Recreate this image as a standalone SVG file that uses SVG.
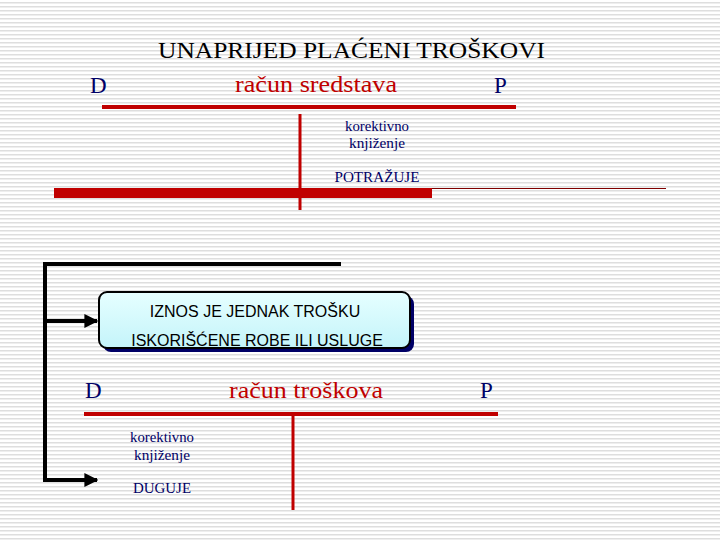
<svg xmlns="http://www.w3.org/2000/svg" width="720" height="540" viewBox="0 0 720 540">
<defs>
<pattern id="bg" width="4" height="4" patternUnits="userSpaceOnUse"><rect width="4" height="4" fill="#ffffff"/><rect y="2" width="4" height="1.5" fill="#dedede"/></pattern>
<marker id="ah" viewBox="0 0 10 10" refX="9" refY="5" markerWidth="3.5" markerHeight="3.5" orient="auto"><path d="M0,0L10,5L0,10z" fill="#000"/></marker>
<linearGradient id="g" x1="0" y1="0" x2="0" y2="1"><stop offset="0" stop-color="#e6ffff"/><stop offset="1" stop-color="#c4f4fa"/></linearGradient>
<style>
.h{font-size:23px}
.n{fill:#000066}
.r{fill:#c00000}
.s{font-size:14px;fill:#000066;text-anchor:middle}
.red{stroke:#c00000;fill:none}
.blk{stroke:#000;stroke-width:4;fill:none}
.bx{font-size:16px;text-anchor:middle;fill:#000}
</style>
</defs>
<rect width="720" height="540" fill="url(#bg)"/>
<g font-family="Liberation Serif, DejaVu Serif, serif">
<text class="h" x="158" y="58" textLength="387" lengthAdjust="spacingAndGlyphs">UNAPRIJED PLAĆENI TROŠKOVI</text>
<g id="acc1">
<text class="h n" x="90" y="93">D</text>
<text class="h r" x="235" y="92" textLength="162" lengthAdjust="spacingAndGlyphs">račun sredstava</text>
<text class="h n" x="494" y="93">P</text>
<line class="red" x1="102" y1="107" x2="516" y2="107" stroke-width="4"/>
<line class="red" x1="300" y1="114" x2="300" y2="210" stroke-width="3"/>
<rect x="54" y="188" width="378" height="10" fill="#c00000"/>
<line x1="432" y1="188.5" x2="666" y2="188.5" stroke="#800000" stroke-width="1"/>
<text class="s" x="377" y="131" textLength="64" lengthAdjust="spacingAndGlyphs">korektivno</text>
<text class="s" x="377" y="148" textLength="56" lengthAdjust="spacingAndGlyphs">knjiženje</text>
<text class="s" x="377" y="182" textLength="85" lengthAdjust="spacingAndGlyphs">POTRAŽUJE</text>
</g>
<g id="acc2">
<text class="h n" x="85" y="398">D</text>
<text class="h r" x="229" y="398" textLength="154" lengthAdjust="spacingAndGlyphs">račun troškova</text>
<text class="h n" x="480" y="398">P</text>
<line class="red" x1="84" y1="414" x2="498" y2="414" stroke-width="4"/>
<line class="red" x1="293" y1="414" x2="293" y2="510" stroke-width="3"/>
<text class="s" x="162" y="442" textLength="64" lengthAdjust="spacingAndGlyphs">korektivno</text>
<text class="s" x="162" y="460" textLength="56" lengthAdjust="spacingAndGlyphs">knjiženje</text>
<text class="s" x="162" y="493" textLength="58" lengthAdjust="spacingAndGlyphs">DUGUJE</text>
</g>
</g>
<g id="box" font-family="Liberation Sans, Arial, sans-serif">
<rect x="103" y="296" width="311" height="56" rx="8" fill="#000066"/>
<rect x="99" y="292" width="311" height="56" rx="8" fill="url(#g)" stroke="#000" stroke-width="2"/>
<text class="bx" x="255" y="317">IZNOS JE JEDNAK TROŠKU</text>
<text class="bx" x="257" y="346">ISKORIŠĆENE ROBE ILI USLUGE</text>
</g>
<g id="connectors">
<polyline class="blk" points="341,264 45,264 45,480 97,480" marker-end="url(#ah)"/>
<line class="blk" x1="45" y1="321" x2="97" y2="321" marker-end="url(#ah)"/>
</g>
</svg>
